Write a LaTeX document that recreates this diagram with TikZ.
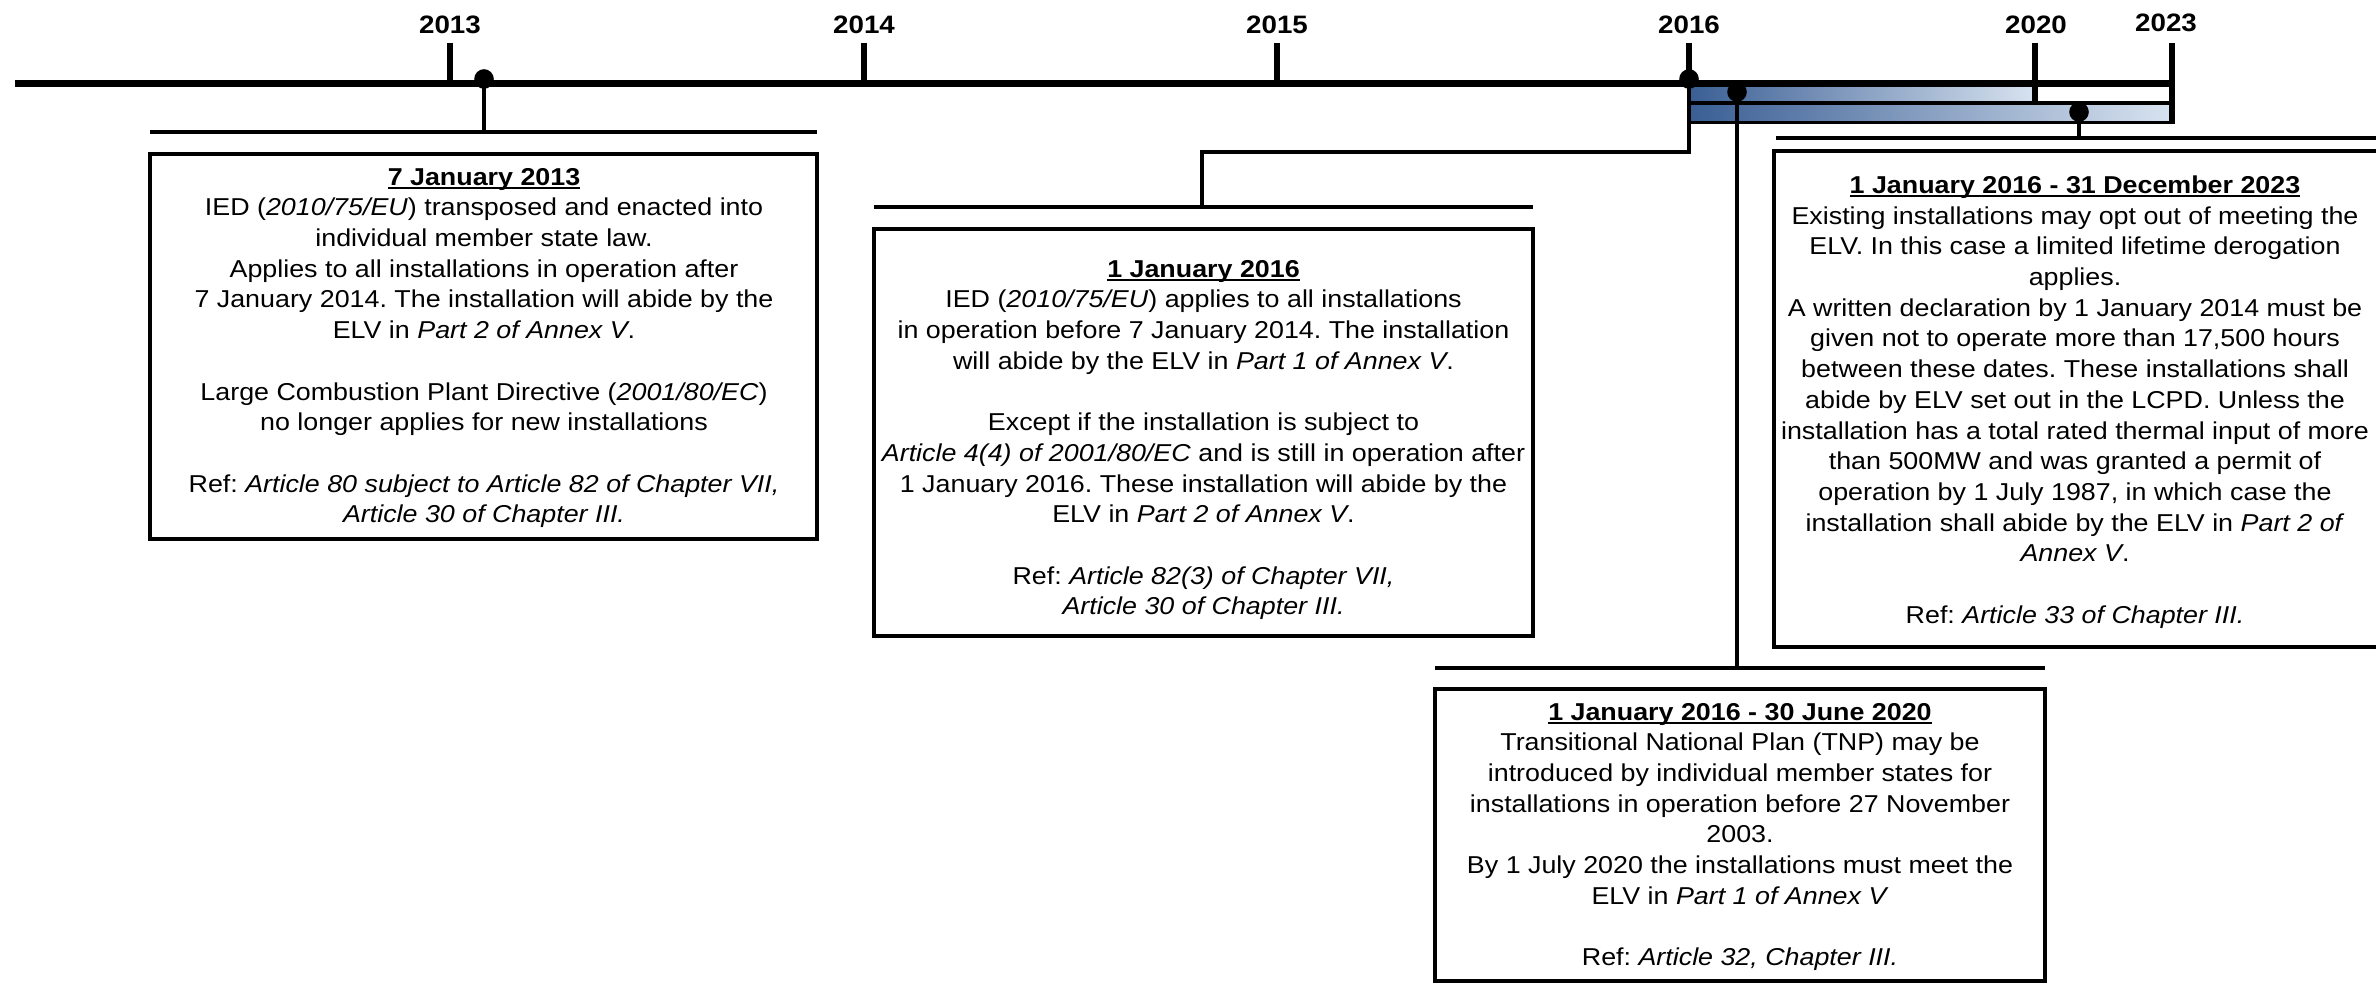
\documentclass[tikz,border=0pt]{standalone}
\usepackage{fontspec}
\setmainfont{Liberation Sans}[FakeStretch=1.1]
\frenchspacing
\definecolor{gdark}{RGB}{58,94,148}
\definecolor{glight}{RGB}{216,227,240}
\newcommand{\myul}[1]{\setbox0=\hbox{#1}\rlap{\rule[-1.7pt]{\wd0}{0.75pt}}\box0}
\tikzset{
  mainline/.style={line width=3.6pt},
  tickline/.style={line width=2.8pt},
  conn/.style={line width=1.9pt},
  barline/.style={line width=1.75pt},
  boxframe/.style={draw, line width=1.75pt, inner sep=0pt},
  dotnode/.style={circle, fill=black, inner sep=0pt, minimum size=9.8pt},
  yearlabel/.style={font=\fontsize{12.6pt}{15pt}\selectfont\bfseries, anchor=base, inner sep=0pt},
  boxtext/.style={font=\fontsize{12.2pt}{15.35pt}\selectfont\frenchspacing, align=center, inner sep=0pt},
}
\begin{document}
\begin{tikzpicture}[x=0.5pt,y=-0.5pt]
\useasboundingbox (0,0) rectangle (2376,983);

% gradient bars
\shade[left color=gdark, right color=glight] (1689,86) rectangle (2035,103);
\shade[left color=gdark, right color=glight] (1689,103) rectangle (2172,122.5);
\draw[barline] (1689,103) -- (2172,103);
\draw[barline] (1689,122.5) -- (2172,122.5);

% ticks
\coordinate (t13) at (450,43);
\coordinate (t14) at (864,43);
\coordinate (t15) at (1277,43);
\coordinate (t16) at (1689,43);
\coordinate (t20) at (2035,43);
\coordinate (t23) at (2172,43);
\draw[tickline] (t13) -- (450,83.5);
\draw[tickline] (t14) -- (864,83.5);
\draw[tickline] (t15) -- (1277,83.5);
\draw[tickline] (t16) -- (1689,83.5);
\draw[tickline] (t20) -- (2035,103);
\draw[tickline] (t23) -- (2172,124);

% main line
\coordinate (ml) at (15,83.5);
\coordinate (mr) at (2173,83.5);
\draw[mainline] (ml) -- (mr);

% year labels
\node[yearlabel] (y2013) at (450,34) {2013};
\node[yearlabel] (y2014) at (864,34) {2014};
\node[yearlabel] (y2015) at (1277,34) {2015};
\node[yearlabel] (y2016) at (1689,34) {2016};
\node[yearlabel] (y2020) at (2036,34) {2020};
\node[yearlabel] (y2023) at (2166,31.5) {2023};

% bars above boxes
\coordinate (b1l) at (150,132);   \coordinate (b1r) at (817,132);
\coordinate (b2l) at (874,207);   \coordinate (b2r) at (1533,207);
\coordinate (b3l) at (1776,138);  \coordinate (b3r) at (2400,138);
\coordinate (b4l) at (1435,668);  \coordinate (b4r) at (2045,668);
\draw[barline] (b1l) -- (b1r);
\draw[barline] (b2l) -- (b2r);
\draw[barline] (b3l) -- (b3r);
\draw[barline] (b4l) -- (b4r);

% dots
\node[dotnode] (d13) at (484,79) {};
\node[dotnode] (d16) at (1689,79) {};
\node[dotnode] (d16b) at (1737,92) {};
\node[dotnode] (d16c) at (2079,112) {};

% connectors
\coordinate (k1) at (1689,152);
\coordinate (k2) at (1202,152);
\draw[conn] (d13.center) -- (d13.center |- b1l);
\draw[conn] (d16.center) -- (k1) -- (k2) -- (k2 |- b2l);
\draw[conn] (d16b.center) -- (d16b.center |- b4l);
\draw[conn] (d16c.center) -- (d16c.center |- b3l);

% boxes
\node[boxframe, minimum width=333.5pt, minimum height=192.5pt] (box1) at (483.5,346.5) {};
\node[boxframe, minimum width=329.5pt, minimum height=203.5pt] (box2) at (1203.5,432.5) {};
\node[boxframe, minimum width=309pt, minimum height=248pt] (box3) at (2083,399) {};
\node[boxframe, minimum width=305pt, minimum height=146pt] (box4) at (1740,835) {};

% texts
\node[boxtext] (txt1) at (484,348) {%
\myul{\textbf{7 January 2013}}\\
IED (\textit{2010/75/EU}) transposed and enacted into\\
individual member state law.\\
Applies to all installations in operation after\\
7 January 2014. The installation will abide by the\\
ELV in \textit{Part 2 of Annex V}.\\[15.35pt]
Large Combustion Plant Directive (\textit{2001/80/EC})\\
no longer applies for new installations\\[15.35pt]
Ref: \textit{Article 80 subject to Article 82 of Chapter VII,}\\
\textit{Article 30 of Chapter III.}};

\node[boxtext] (txt2) at (1203.5,440) {%
\myul{\textbf{1 January 2016}}\\
IED (\textit{2010/75/EU}) applies to all installations\\
in operation before 7 January 2014. The installation\\
will abide by the ELV in \textit{Part 1 of Annex V}.\\[15.35pt]
Except if the installation is subject to\\
\textit{Article 4(4) of 2001/80/EC} and is still in operation after\\
1 January 2016. These installation will abide by the\\
ELV in \textit{Part 2 of Annex V}.\\[15.35pt]
Ref: \textit{Article 82(3) of Chapter VII,}\\
\textit{Article 30 of Chapter III.}};

\node[boxtext] (txt3) at (2075,402) {%
\myul{\textbf{1 January 2016 - 31 December 2023}}\\
Existing installations may opt out of meeting the\\
ELV. In this case a limited lifetime derogation\\
applies.\\
A written declaration by 1 January 2014 must be\\
given not to operate more than 17,500 hours\\
between these dates. These installations shall\\
abide by ELV set out in the LCPD. Unless the\\
installation has a total rated thermal input of more\\
than 500MW and was granted a permit of\\
operation by 1 July 1987, in which case the\\
installation shall abide by the ELV in \textit{Part 2 of}\\
\textit{Annex V}.\\[15.35pt]
Ref: \textit{Article 33 of Chapter III.}};

\node[boxtext] (txt4) at (1740,837) {%
\myul{\textbf{1 January 2016 - 30 June 2020}}\\
Transitional National Plan (TNP) may be\\
introduced by individual member states for\\
installations in operation before 27 November\\
2003.\\
By 1 July 2020 the installations must meet the\\
ELV in \textit{Part 1 of Annex V}\\[15.35pt]
Ref: \textit{Article 32, Chapter III.}};
\end{tikzpicture}
\end{document}
